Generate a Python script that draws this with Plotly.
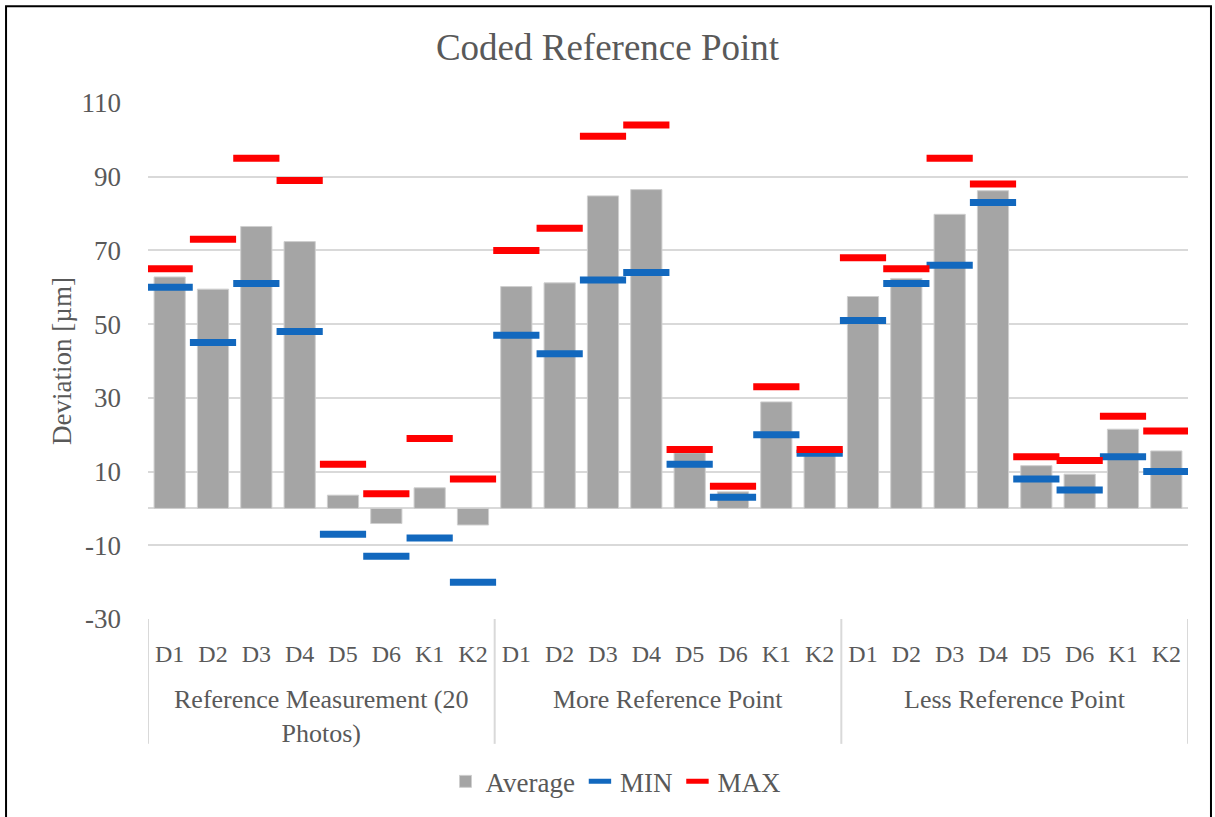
import plotly.graph_objects as go

# Measurement groups and the targets measured in each
groups = ["Reference Measurement (20<br>Photos)", "More Reference Point", "Less Reference Point"]
targets = ["D1", "D2", "D3", "D4", "D5", "D6", "K1", "K2"]

# Deviation values in µm, one list per group (order follows `targets`)
avg_ref = [62.8, 59.5, 76.5, 72.4, 3.6, -4.1, 5.6, -4.5]
min_ref = [60, 45, 61, 48, -7, -13, -8, -20]
max_ref = [65, 73, 95, 89, 12, 4, 19, 8]

avg_more = [60.2, 61.2, 84.8, 86.5, 15.1, 4.5, 28.9, 14.5]
min_more = [47, 42, 62, 64, 12, 3, 20, 15]
max_more = [70, 76, 101, 104, 16, 6, 33, 16]

avg_less = [57.5, 62.4, 79.8, 86.2, 11.6, 9.3, 21.5, 15.6]
min_less = [51, 61, 66, 83, 8, 5, 14, 10]
max_less = [68, 65, 95, 88, 14, 13, 25, 21]

# Y axis ticks
y_ticks = [-30, -10, 10, 30, 50, 70, 90, 110]
y_tick_labels = ["-30", "-10", "10", "30", "50", "70", "90", "110"]

average = avg_ref + avg_more + avg_less
minimum = min_ref + min_more + min_less
maximum = max_ref + max_more + max_less

# one slot per (group, target) pair along the category axis
n_t = len(targets)
pos = list(range(len(groups) * n_t))
tick_text = targets * len(groups)

FONT = "Liberation Serif"
TEXT = "#595959"
GRID = "#D9D9D9"

fig = go.Figure()
fig.add_trace(go.Bar(
    x=pos, y=average, name="Average",
    marker=dict(color="#A5A5A5", line=dict(color="#CFCFCF", width=1)),
))
fig.add_trace(go.Scatter(
    x=pos, y=minimum, name="MIN", mode="markers",
    marker=dict(symbol="line-ew", size=33, line=dict(color="#1268BE", width=7)),
))
fig.add_trace(go.Scatter(
    x=pos, y=maximum, name="MAX", mode="markers",
    marker=dict(symbol="line-ew", size=33, line=dict(color="#FF0000", width=7)),
))

# group captions under the target labels, with dividers between groups
annotations = []
shapes = []
for gi, g in enumerate(groups):
    annotations.append(dict(
        text=g, x=gi * n_t + (n_t - 1) / 2, xref="x",
        y=-0.124, yref="paper", xanchor="center", yanchor="top",
        showarrow=False, font=dict(size=26, color=TEXT, family=FONT),
    ))
for k in range(len(groups) + 1):
    xd = k * n_t - 0.5
    shapes.append(dict(type="line", xref="x", yref="paper",
                       x0=xd, x1=xd, y0=0, y1=-0.242,
                       line=dict(color=GRID, width=2)))

# outer chart frame
shapes.append(dict(type="rect", xref="paper", yref="paper",
                   x0=-0.1365, x1=1.0221, y0=-0.4, y1=1.1876,
                   line=dict(color="black", width=2), layer="above"))

fig.update_layout(
    width=1215, height=817,
    margin=dict(l=148, r=27, t=103, b=197),
    paper_bgcolor="white", plot_bgcolor="white",
    font=dict(family=FONT, color=TEXT),
    title=dict(text="Coded Reference Point", x=0.5, xanchor="center",
               y=0.942, yanchor="middle", font=dict(size=37, color=TEXT)),
    bargap=0.28,
    showlegend=True,
    legend=dict(orientation="h", x=0.45, xanchor="center", y=-0.313, yanchor="middle",
                font=dict(size=27, color=TEXT), itemwidth=30),
    annotations=annotations,
    shapes=shapes,
)
fig.update_xaxes(
    range=[-0.5, len(pos) - 0.5],
    tickmode="array", tickvals=pos, ticktext=tick_text,
    tickfont=dict(size=24, color=TEXT),
    showgrid=False, showline=False, zeroline=False,
    ticks="", ticklabelstandoff=18, automargin=False,
)
fig.update_yaxes(
    range=[-30, 110],
    tickmode="array", tickvals=y_ticks, ticktext=y_tick_labels,
    tickfont=dict(size=27, color=TEXT),
    showgrid=True, gridcolor=GRID, gridwidth=2,
    zeroline=True, zerolinecolor=GRID, zerolinewidth=2,
    showline=False, ticklabelstandoff=26, automargin=False,
    title=dict(text="Deviation [µm]", font=dict(size=27, color=TEXT), standoff=2),
)

fig.write_html("out.html")
